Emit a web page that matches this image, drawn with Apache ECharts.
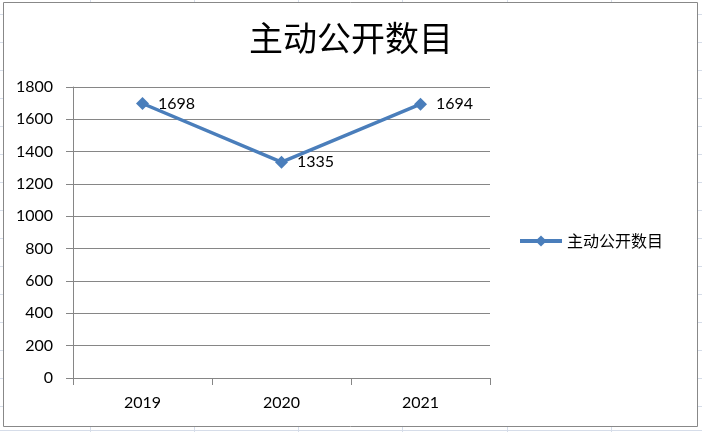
<!DOCTYPE html>
<html>
<head>
<meta charset="utf-8">
<script src="https://cdn.jsdelivr.net/npm/echarts@6/dist/echarts.min.js"></script>
<style>
  html, body { margin: 0; padding: 0; background: #fff; }
  #chart { width: 702px; height: 432px; }
</style>
</head>
<body>
<div id="chart"></div>
<script>
// data
const years = ['2019', '2020', '2021'];
const counts = [1698, 1335, 1694];
const seriesName = '主动公开数目';

// faint spreadsheet cell lines behind the chart frame
const sheetCols = [90, 194, 298, 402, 507, 611];
const sheetRows = [14, 42, 70, 98, 126, 154, 182, 210, 238, 266, 294, 322, 350, 378, 406, 430];

const numFont = 'Lato, "Liberation Sans", sans-serif';
const cjkFont = '"Noto Sans CJK SC", sans-serif';

const bg = [];
sheetCols.forEach(x => bg.push({
  type: 'line', z: -20, silent: true,
  shape: { x1: x + 0.5, y1: 0, x2: x + 0.5, y2: 432 },
  style: { stroke: '#d6dde9', lineWidth: 1 }
}));
sheetRows.forEach(y => bg.push({
  type: 'line', z: -20, silent: true,
  shape: { x1: 0, y1: y + 0.5, x2: 702, y2: y + 0.5 },
  style: { stroke: '#d6dde9', lineWidth: 1 }
}));
bg.push({
  type: 'rect', z: -10, silent: true,
  shape: { x: 3.5, y: 2.5, width: 694, height: 424 },
  style: { fill: '#fff', stroke: '#888', lineWidth: 1 }
});

const chart = echarts.init(document.getElementById('chart'));
chart.setOption({
  backgroundColor: '#fff',
  animation: false,
  graphic: bg,
  title: {
    text: seriesName,
    left: 'center',
    top: 16,
    textStyle: { fontFamily: cjkFont, fontSize: 34, fontWeight: 'normal', color: '#000' }
  },
  legend: {
    left: 518,
    top: 233,
    padding: 0,
    itemWidth: 42,
    itemHeight: 14,
    itemGap: 4,
    lineStyle: { width: 4 },
    textStyle: { fontFamily: cjkFont, fontSize: 16, color: '#000' },
    data: [seriesName]
  },
  grid: { left: 73, right: 212, top: 87, bottom: 54 },
  xAxis: {
    type: 'category',
    data: years,
    boundaryGap: true,
    axisLine: { lineStyle: { color: '#868686', width: 1 } },
    axisTick: { show: true, length: 7, lineStyle: { color: '#868686' } },
    axisLabel: { margin: 17, fontFamily: numFont, fontSize: 16, color: '#000' }
  },
  yAxis: {
    type: 'value',
    min: 0,
    max: 1800,
    interval: 200,
    axisLine: { show: true, lineStyle: { color: '#868686', width: 1 } },
    axisTick: { show: true, length: 7, lineStyle: { color: '#868686' } },
    axisLabel: {
      margin: 20, fontFamily: numFont, fontSize: 16, color: '#000',
      formatter: v => String(v)
    },
    splitLine: { lineStyle: { color: '#868686', width: 1 } }
  },
  series: [{
    name: seriesName,
    type: 'line',
    data: counts,
    symbol: 'diamond',
    symbolSize: 13,
    color: '#4a7ebb',
    lineStyle: { width: 3.5, color: '#4a7ebb' },
    itemStyle: { color: '#4a7ebb' },
    label: {
      show: true,
      position: 'right',
      distance: 9,
      fontFamily: numFont,
      fontSize: 16,
      color: '#000'
    }
  }]
});
</script>
</body>
</html>
